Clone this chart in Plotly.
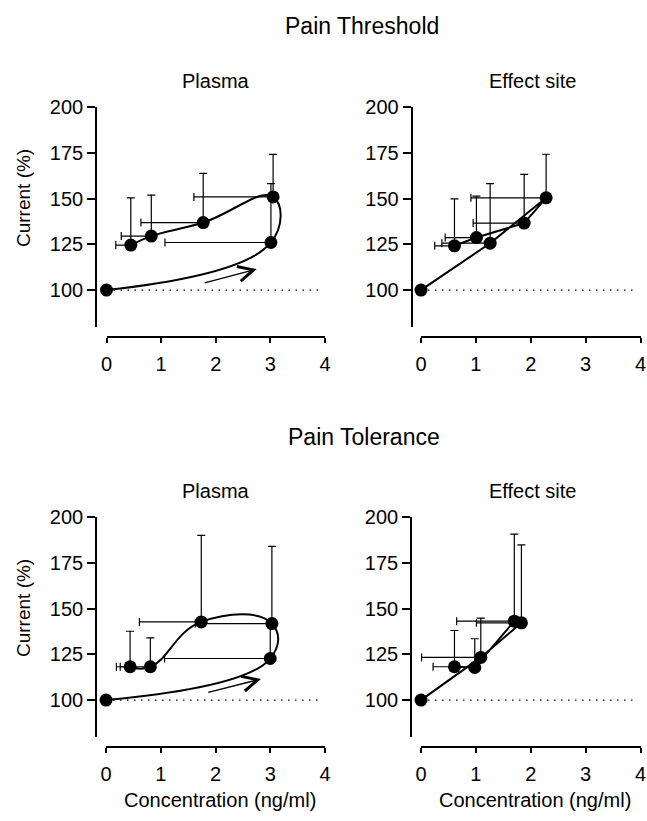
import plotly.graph_objects as go

W, H = 647, 821

# ---------------- data ----------------
# order = time sequence of measurements
thr_plasma_x = [0, 3.01, 3.05, 1.77, 0.82, 0.445]
thr_plasma_y = [100, 126.0, 150.9, 136.9, 129.5, 124.6]
thr_plasma_err_up = [0, 32.2, 23.2, 26.8, 22.4, 25.8]
thr_plasma_err_left = [0, 1.94, 1.45, 1.14, 0.55, 0.275]

thr_effect_x = [0, 1.26, 2.28, 1.88, 1.01, 0.61]
thr_effect_y = [100, 125.6, 150.4, 136.6, 128.7, 124.2]
thr_effect_err_up = [0, 32.6, 23.8, 26.6, 22.6, 25.6]
thr_effect_err_left = [0, 0.88, 1.37, 0.93, 0.57, 0.36]

tol_plasma_x = [0, 3.00, 3.03, 1.74, 0.81, 0.44]
tol_plasma_y = [100, 122.7, 141.8, 142.7, 118.2, 118.2]
tol_plasma_err_up = [0, 19.3, 42.2, 47.3, 15.8, 19.4]
tol_plasma_err_left = [0, 1.93, 1.40, 1.13, 0.55, 0.25]

tol_effect_x = [0, 1.09, 1.83, 1.70, 0.98, 0.61]
tol_effect_y = [100, 123.3, 142.2, 143.1, 117.8, 118.2]
tol_effect_err_up = [0, 21.5, 42.6, 47.5, 15.7, 19.8]
tol_effect_err_left = [0, 1.08, 0.82, 1.05, 0.45, 0.39]

baseline_x = [0, 3.9]
baseline_y = [100, 100]

x_ticks = [0, 1, 2, 3, 4]
y_ticks = [100, 125, 150, 175, 200]

thr_arrow_from = (1.77, 103.7)
thr_arrow_to = (2.75, 111.5)
tol_arrow_from = (1.84, 104.0)
tol_arrow_to = (2.83, 111.5)

section_titles = ["Pain Threshold", "Pain Tolerance"]
panel_titles = ["Plasma", "Effect site"]
x_title = "Concentration (ng/ml)"
y_title = "Current (%)"

# ---------------- layout geometry (pixels) ----------------
FONT = "Liberation Sans, Arial, Helvetica, sans-serif"
panels = [
    dict(x0=106.5, x1=325.0, ytop=107.0, ybot=326.7, yax=96.0, xax=337.0),
    dict(x0=421.0, x1=640.5, ytop=107.0, ybot=326.7, yax=411.5, xax=337.0),
    dict(x0=106.0, x1=325.0, ytop=517.0, ybot=736.7, yax=96.0, xax=747.0),
    dict(x0=421.0, x1=640.5, ytop=517.0, ybot=736.7, yax=411.0, xax=747.0),
]

series = [
    (thr_plasma_x, thr_plasma_y, thr_plasma_err_up, thr_plasma_err_left, "spline"),
    (thr_effect_x, thr_effect_y, thr_effect_err_up, thr_effect_err_left, "linear"),
    (tol_plasma_x, tol_plasma_y, tol_plasma_err_up, tol_plasma_err_left, "spline"),
    (tol_effect_x, tol_effect_y, tol_effect_err_up, tol_effect_err_left, "linear"),
]

fig = go.Figure()
layout = dict(
    template="none",
    width=W, height=H, autosize=False,
    margin=dict(l=0, r=0, t=0, b=0, pad=0),
    paper_bgcolor="white", plot_bgcolor="white",
    showlegend=False,
    font=dict(family=FONT, color="black", size=20),
)

for i, (p, (sx, sy, eu, el, shape)) in enumerate(zip(panels, series)):
    n = i + 1
    xa = "x" if n == 1 else f"x{n}"
    ya = "y" if n == 1 else f"y{n}"
    xkey = "xaxis" if n == 1 else f"xaxis{n}"
    ykey = "yaxis" if n == 1 else f"yaxis{n}"
    layout[xkey] = dict(
        domain=[p["x0"] / W, p["x1"] / W], range=[0, 4],
        anchor="free", position=1 - p["xax"] / H, automargin=False,
        showline=True, linecolor="black", linewidth=1.6,
        ticks="outside", ticklen=5, tickwidth=1.5, tickcolor="black",
        tickvals=x_ticks, showgrid=False, zeroline=False,
        tickfont=dict(size=20, family=FONT, color="black"),
        ticklabelstandoff=4,
    )
    layout[ykey] = dict(
        domain=[1 - p["ybot"] / H, 1 - p["ytop"] / H], range=[80, 200],
        anchor="free", position=p["yax"] / W, automargin=False,
        showline=True, linecolor="black", linewidth=1.6,
        ticks="outside", ticklen=8, tickwidth=1.5, tickcolor="black",
        tickvals=y_ticks, showgrid=False, zeroline=False,
        tickfont=dict(size=20, family=FONT, color="black"),
    )
    # dotted baseline
    fig.add_trace(go.Scatter(
        x=baseline_x, y=baseline_y, xaxis=xa, yaxis=ya, mode="lines",
        line=dict(color="black", width=1.3, dash="1.5px,5.5px"),
        hoverinfo="skip",
    ))
    # data
    fig.add_trace(go.Scatter(
        x=sx, y=sy, xaxis=xa, yaxis=ya, mode="lines+markers",
        line=dict(color="black", width=2, shape=shape, smoothing=1.3),
        marker=dict(color="black", size=13),
        cliponaxis=False,
        error_y=dict(type="data", symmetric=False, array=eu,
                     arrayminus=[0] * len(eu), color="black",
                     thickness=1.2, width=4),
        error_x=dict(type="data", symmetric=False, array=[0] * len(el),
                     arrayminus=el, color="black", thickness=1.2, width=4),
    ))

annotations = []
# arrows in plasma panels
for (fx, fy), (tx, ty), n in [(thr_arrow_from, thr_arrow_to, 1), (tol_arrow_from, tol_arrow_to, 3)]:
    xa = "x" if n == 1 else f"x{n}"
    ya = "y" if n == 1 else f"y{n}"
    annotations.append(dict(
        x=tx, y=ty, ax=fx, ay=fy, xref=xa, yref=ya, axref=xa, ayref=ya,
        text="", showarrow=True, arrowhead=5, arrowsize=2.3, arrowwidth=1.3,
        arrowcolor="black",
    ))

def ann(text, px, py, size, angle=0):
    annotations.append(dict(
        text=text, x=px / W, y=1 - py / H, xref="paper", yref="paper",
        showarrow=False, xanchor="center", yanchor="middle", textangle=angle,
        font=dict(family=FONT, size=size, color="black"),
    ))

ann(section_titles[0], 362, 26, 23)
ann(section_titles[1], 364, 437, 23)
ann(panel_titles[0], 216, 81, 20)
ann(panel_titles[1], 532, 81, 20)
ann(panel_titles[0], 216, 491, 20)
ann(panel_titles[1], 532, 491, 20)
ann(x_title, 220, 800, 20)
ann(x_title, 535, 800, 20)
ann(y_title, 23, 198, 19, -90)
ann(y_title, 23, 608, 19, -90)

layout["annotations"] = annotations
fig.update_layout(**layout)
fig.write_html(
    "out.html",
    config={"displayModeBar": False},
    post_script="document.body.style.margin='0';document.body.style.overflow='hidden';",
)
